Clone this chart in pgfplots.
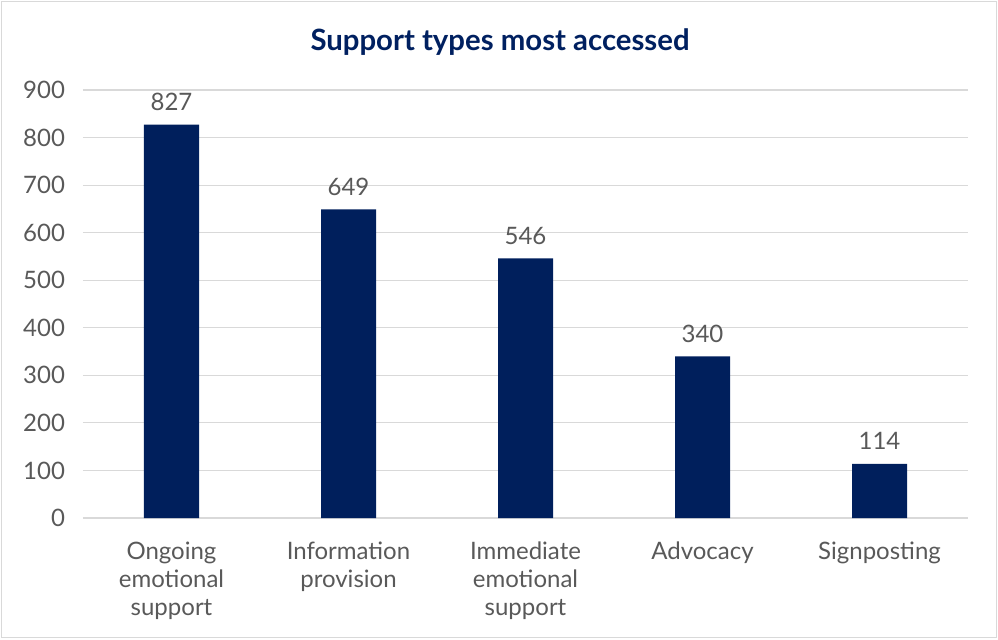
\documentclass[border=0pt]{standalone}
\usepackage{pgfplots}
\pgfplotsset{compat=1.18}
\usepackage{fontspec}
\setmainfont{Lato}
\definecolor{navy}{HTML}{001F5C}
\definecolor{titlenavy}{HTML}{002060}
\definecolor{txt}{HTML}{595959}
\definecolor{gridc}{HTML}{D9D9D9}
\begin{document}
\begin{tikzpicture}
\path[use as bounding box] (-62.25pt,-90.75pt) rectangle (686.25pt,388.5pt);
\draw[gridc, line width=0.9pt] (-61.1pt,-89.6pt) rectangle (685.1pt,387.3pt);
\begin{axis}[
  at={(0,0)}, anchor=south west,
  scale only axis,
  width=663.75pt, height=321pt,
  ymin=0, ymax=900,
  xmin=-0.5, xmax=4.5,
  ytick={0,100,...,900},
  xtick={0,1,2,3,4},
  xticklabels={Ongoing\\emotional\\support, Information\\provision, Immediate\\emotional\\support, Advocacy, Signposting},
  xticklabel style={align=center, text=txt, font=\fontsize{18}{21}\selectfont, yshift=-14.5pt},
  yticklabel style={text=txt, font=\fontsize{18}{21}\selectfont, xshift=-10pt},
  /pgf/number format/assume math mode=true,
  major tick length=0pt,
  ymajorgrids, grid style={gridc, line width=0.9pt},
  axis line style={draw=none},
  axis x line*=bottom,
  x axis line style={draw=gridc, line width=0.9pt},
  axis y line=none,
  hide y axis=false,
  ybar, bar width=41.25pt,
  nodes near coords,
  every node near coord/.append style={text=txt, font=\fontsize{18}{21}\selectfont, yshift=7pt},
  clip=false,
]
\addplot[fill=navy, draw=none] coordinates {(0,827) (1,649) (2,546) (3,340) (4,114)};
\end{axis}
\node[text=titlenavy, font=\fontsize{22}{26}\bfseries] at (312.75pt,357pt) {Support types most accessed};
\end{tikzpicture}
\end{document}
